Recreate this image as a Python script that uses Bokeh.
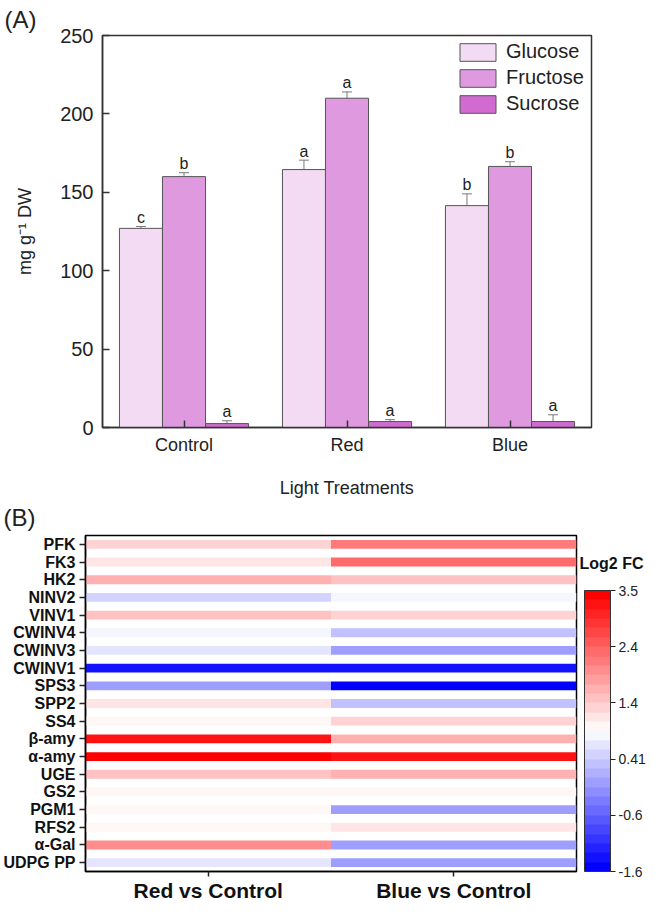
from bokeh.plotting import figure
from bokeh.models import (ColumnDataSource, FactorRange, Range1d, Whisker, TeeHead, Legend,
                          LegendItem, LinearColorMapper, ColorBar, FixedTicker, CategoricalAxis)
from bokeh.transform import dodge
from bokeh.embed import file_html
from bokeh.resources import INLINE
from bokeh.core.properties import value

FONT = "Liberation Sans"

# ---------------- data: panel A ----------------
treatments = ["Control", "Red", "Blue"]
sugars = ["Glucose", "Fructose", "Sucrose"]
glucose = [127, 164.5, 141.5]
glucose_err = [1.2, 6.0, 7.5]
fructose = [160, 210, 166.5]
fructose_err = [2.5, 4.0, 3.0]
sucrose = [2.5, 3.8, 3.8]
sucrose_err = [1.8, 1.2, 4.3]
letters_glucose = ["c", "a", "b"]
letters_fructose = ["b", "a", "b"]
letters_sucrose = ["a", "a", "a"]
y_ticks = [0, 50, 100, 150, 200, 250]

# ---------------- data: panel B ----------------
genes = ["PFK", "FK3", "HK2", "NINV2", "VINV1", "CWINV4", "CWINV3", "CWINV1", "SPS3",
         "SPP2", "SS4", "β-amy", "α-amy", "UGE", "GS2", "PGM1", "RFS2", "α-Gal", "UDPG PP"]
comparisons = ["Red vs Control", "Blue vs Control"]
red_vs_control = [1.37, 1.21, 1.75, 0.51, 1.56, 0.85, 0.70, -1.28, -0.07,
                  1.26, 1.08, 3.18, 3.5, 1.54, 1.02, 1.04, 1.10, 2.10, 0.66]
blue_vs_control = [2.14, 2.46, 1.56, 0.85, 1.37, 0.34, -0.02, -1.28, -1.6,
                   0.36, 1.34, 1.74, 3.18, 1.74, 1.04, -0.04, 1.26, -0.04, -0.04]
cbar_low, cbar_high = -1.6, 3.5
cbar_ticks = [-1.6, -0.58, 0.44, 1.46, 2.48, 3.5]
cbar_labels = ["-1.6", "-0.6", "0.41", "1.4", "2.4", "3.5"]
cbar_title = "Log2 FC"

# ---------------- panel A ----------------
bar_colors = ["#F3DBF3", "#DF99DF", "#D16BD1"]
W = 646
p = figure(width=W, height=500, x_range=FactorRange(*treatments), y_range=Range1d(0, 250),
           output_backend="svg", toolbar_location=None,
           min_border_left=102, min_border_right=55, min_border_top=35, min_border_bottom=70)
p.xgrid.visible = False
p.ygrid.visible = False
p.outline_line_color = "#333333"
p.outline_line_width = 1.5

p.title.text = "(A)"
p.title.text_font = FONT
p.title.text_font_size = "24px"
p.title.text_font_style = "normal"
p.title.text_color = "#222222"
p.title.align = "left"
p.title.offset = -98
p.title.standoff = 2
p.title.vertical_align = "top"

bw = 0.264
offsets = [-bw, 0.0, bw]
series = [(glucose, glucose_err, letters_glucose),
          (fructose, fructose_err, letters_fructose),
          (sucrose, sucrose_err, letters_sucrose)]
renderers = []
for (vals, errs, lets), off, col in zip(series, offsets, bar_colors):
    src = ColumnDataSource(dict(x=treatments, top=vals,
                                upper=[v + e for v, e in zip(vals, errs)],
                                lower=[v - e for v, e in zip(vals, errs)],
                                letter=lets))
    r = p.vbar(x=dodge("x", off, range=p.x_range), top="top", width=bw, source=src,
               fill_color=col, line_color="#555555", line_width=1)
    renderers.append(r)
    wh = Whisker(base=dodge("x", off, range=p.x_range), upper="upper", lower="lower", source=src,
                 line_color="#7a7a7a", line_width=1,
                 upper_head=TeeHead(size=10, line_color="#7a7a7a", line_width=1),
                 lower_head=TeeHead(size=10, line_color="#7a7a7a", line_width=1))
    p.add_layout(wh)
    p.text(x=dodge("x", off, range=p.x_range), y="upper", text="letter", source=src,
           text_align="center", text_baseline="alphabetic", y_offset=-9,
           text_font=value(FONT), text_font_size="16px", text_color="#222222")

legend = Legend(items=[LegendItem(label=s, renderers=[r]) for s, r in zip(sugars, renderers)],
                location="top_right", glyph_width=45, glyph_height=22, label_height=22,
                label_width=80, spacing=3, padding=10, margin=5, label_standoff=6,
                border_line_color=None, background_fill_alpha=0,
                label_text_font=FONT, label_text_font_size="20px", label_text_color="#222222")
p.add_layout(legend)

for ax in (p.xaxis[0], p.yaxis[0]):
    ax.axis_line_color = "#333333"
    ax.axis_line_width = 1.5
    ax.major_tick_line_color = "#333333"
    ax.major_tick_line_width = 1.5
    ax.major_tick_in = 7
    ax.major_tick_out = 0
    ax.minor_tick_line_color = None
    ax.major_label_text_font = FONT
    ax.major_label_text_color = "#222222"
    ax.axis_label_text_font = FONT
    ax.axis_label_text_font_style = "normal"
    ax.axis_label_text_font_size = "18px"
    ax.axis_label_text_color = "#222222"

p.yaxis.ticker = FixedTicker(ticks=y_ticks)
p.yaxis.major_label_text_font_size = "20px"
p.yaxis.major_label_standoff = 9
p.yaxis.axis_label = "mg g⁻¹ DW"
p.yaxis.axis_label_standoff = 22
p.xaxis.major_label_text_font_size = "18px"
p.xaxis.major_label_standoff = 7
p.xaxis.axis_label = "Light Treatments"
p.xaxis.axis_label_standoff = 20

# ---------------- panel B ----------------
n_steps = 30
palette = []
for i in range(n_steps):
    t = i / (n_steps - 1)
    if t < 0.5:
        k = int(round(255 * 2 * t))
        palette.append("#%02x%02x%02x" % (k, k, 255))
    else:
        k = int(round(255 * (2 - 2 * t)))
        palette.append("#%02x%02x%02x" % (255, k, k))
mapper = LinearColorMapper(palette=palette, low=cbar_low, high=cbar_high)

hx, hy, hv = [], [], []
for g, rv, bv in zip(genes, red_vs_control, blue_vs_control):
    hx += comparisons
    hy += [g, g]
    hv += [rv, bv]
hsrc = ColumnDataSource(dict(x=hx, y=hy, v=hv))

HB = 404
BAR_H = 281
q = figure(width=W, height=HB, x_range=FactorRange(*comparisons),
           y_range=FactorRange(*reversed(genes)),
           output_backend="svg", toolbar_location=None,
           min_border_left=85, min_border_right=68, min_border_top=35, min_border_bottom=32)
q.xgrid.visible = False
q.ygrid.visible = False
q.outline_line_color = "black"
q.outline_line_width = 1.5
q.rect(x="x", y="y", width=1.0, height=0.5, source=hsrc,
       fill_color={"field": "v", "transform": mapper}, line_color=None)

q.title.text = "(B)"
q.title.text_font = FONT
q.title.text_font_size = "24px"
q.title.text_font_style = "normal"
q.title.text_color = "#222222"
q.title.align = "left"
q.title.offset = -82
q.title.standoff = 6
q.title.vertical_align = "top"

for ax in (q.xaxis[0], q.yaxis[0]):
    ax.axis_line_color = "black"
    ax.axis_line_width = 1.5
    ax.major_tick_line_color = "#222222"
    ax.major_tick_line_width = 1.5
    ax.major_tick_in = 0
    ax.minor_tick_line_color = None
    ax.major_label_text_font = FONT
    ax.major_label_text_font_style = "bold"
    ax.major_label_text_color = "#111111"
q.yaxis.major_tick_out = 6
q.yaxis.major_label_text_font_size = "16px"
q.yaxis.major_label_standoff = 4
q.xaxis.major_tick_out = 5
q.xaxis.major_label_text_font_size = "21px"
q.xaxis.major_label_standoff = 2

cbar = ColorBar(color_mapper=mapper, orientation="vertical", location=(499, 0),
                width=26, height=BAR_H, padding=0, title=None,
                ticker=FixedTicker(ticks=cbar_ticks),
                major_label_overrides={t: l for t, l in zip(cbar_ticks, cbar_labels)},
                major_label_text_font=FONT, major_label_text_font_size="14px",
                major_label_text_color="#222222", label_standoff=3,
                major_tick_in=0, major_tick_out=5, major_tick_line_color="#222222",
                minor_tick_line_color=None, bar_line_color="#333333", bar_line_width=1,
                background_fill_alpha=0, border_line_color=None)
q.add_layout(cbar)

# heading of the colour scale: a right-hand categorical axis of six equal slots whose
# top slot (about 28 px below the frame top, just above the bar) carries the heading
head_slots = [" " * k for k in range(1, 6)] + [cbar_title]
q.extra_y_ranges = {"head": FactorRange(*head_slots)}
cb_axis = CategoricalAxis(y_range_name="head",
                          axis_line_color=None, major_tick_line_color=None,
                          minor_tick_line_color=None, major_tick_in=0, major_tick_out=0,
                          major_label_standoff=3, major_label_text_font=FONT,
                          major_label_text_font_size="16px", major_label_text_font_style="bold",
                          major_label_text_color="#111111")
q.add_layout(cb_axis, "right")

open("out.html", "w").write(file_html([p, q], INLINE))
